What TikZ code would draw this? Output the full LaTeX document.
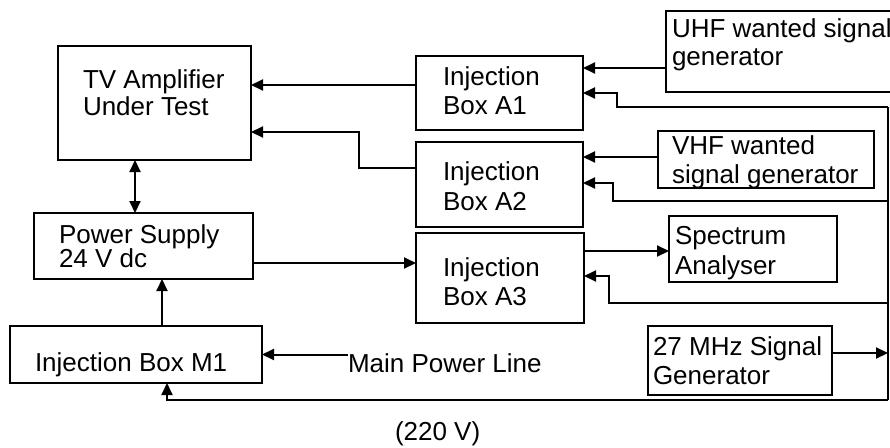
\documentclass[tikz,border=0pt]{standalone}
\usepackage{fontspec}
\setmainfont{Liberation Sans}
\usetikzlibrary{arrows.meta}
\tikzset{
  box/.style={draw, line width=2pt, rectangle, inner sep=0pt, outer sep=0pt},
  txt/.style={inner sep=0pt, outer sep=0pt, anchor=base west, font=\fontsize{26}{29}\selectfont},
  wire/.style={line width=2pt},
  arr/.style={wire, -{Triangle[length=12pt,width=11pt]}},
  dblarr/.style={wire, {Triangle[length=12pt,width=11pt]}-{Triangle[length=12pt,width=11pt]}}
}
\begin{document}
\begin{tikzpicture}[x=1pt,y=-1pt]
\clip (0,0) rectangle (890,447);
\fill[white] (0,0) rectangle (890,447);
% boxes
\node[box, minimum width=193pt, minimum height=114pt] (tv) at (154.5,103) {};
\node[box, minimum width=219pt, minimum height=66pt] (ps) at (143.5,246) {};
\node[box, minimum width=252pt, minimum height=57pt] (m1) at (136,354.5) {};
\node[box, minimum width=167pt, minimum height=74pt] (a1) at (499.5,93) {};
\node[box, minimum width=167pt, minimum height=85pt] (a2) at (499.5,184.5) {};
\node[box, minimum width=168pt, minimum height=90pt] (a3) at (500,278) {};
\node[box, minimum width=239pt, minimum height=81pt] (uhf) at (785.5,51.5) {};
\node[box, minimum width=216pt, minimum height=57pt] (vhf) at (766,159.5) {};
\node[box, minimum width=168pt, minimum height=66pt] (sa) at (753,249) {};
\node[box, minimum width=184pt, minimum height=69pt] (gen) at (740,360.5) {};
% texts
\node[txt] (tvt1) at (83,88) {TV Amplifier};
\node[txt] (tvt2) at (83,115) {Under Test};
\node[txt] (pst1) at (59,243.5) {Power Supply};
\node[txt] (pst2) at (59,267) {24 V dc};
\node[txt] (m1t) at (35,371.7) {Injection Box M1};
\node[txt] (a1t1) at (443,85) {Injection};
\node[txt] (a1t2) at (443,114) {Box A1};
\node[txt] (a2t1) at (443,180.7) {Injection};
\node[txt] (a2t2) at (443,210) {Box A2};
\node[txt] (a3t1) at (443,276.7) {Injection};
\node[txt] (a3t2) at (443,305) {Box A3};
\node[txt] (uhft1) at (672,37) {UHF wanted signal};
\node[txt] (uhft2) at (672,65.7) {generator};
\node[txt] (vhft1) at (672,154.6) {VHF wanted};
\node[txt] (vhft2) at (672,183.3) {signal generator};
\node[txt] (sat1) at (675,244) {Spectrum};
\node[txt] (sat2) at (675,274.3) {Analyser};
\node[txt] (gent1) at (653,355) {27 MHz Signal};
\node[txt] (gent2) at (653,384) {Generator};
\node[txt] (mpl) at (348,372) {Main Power Line};
\node[txt] (volt) at (395,440) {(220 V)};
% bus coordinates
\coordinate (b1) at (888,107);
\coordinate (b2) at (888,201);
\coordinate (b3) at (888,303);
\coordinate (b4) at (888,400);
% connectors
\draw[arr] ([yshift=8pt]a1.west) -- ([yshift=8pt]a1.west -| tv.east);
\draw[arr] ([yshift=16.5pt]a2.west) -- ++(-57,0) |- ([yshift=-29pt]tv.east);
\draw[dblarr] ([xshift=-19.5pt]tv.south) -- ([xshift=-19.5pt]tv.south |- ps.north);
\draw[arr] ([yshift=-17pt]ps.east) -- ([yshift=-17pt]ps.east -| a3.west);
\draw[arr] ([xshift=26pt]m1.north) -- ([xshift=26pt]m1.north |- ps.south);
\draw[arr] ([yshift=-16.5pt]uhf.west) -- ([yshift=-16.5pt]uhf.west -| a1.east);
\draw[arr] ([yshift=2.5pt]vhf.west) -- ([yshift=2.5pt]vhf.west -| a2.east);
\draw[arr] ([yshift=27pt]a3.east) -- ([yshift=27pt]a3.east -| sa.west);
\draw[arr] ([yshift=7.5pt]gen.east) -- ([yshift=7.5pt]gen.east -| b4);
\draw[arr] (mpl.west |- m1.east) -- (m1.east);
\draw[wire] (b1) -- (b4);
\draw[arr] (b1) -- (b1 -| 617,0) |- (a1.east);
\draw[arr] (b2) -- (b2 -| 613,0) |- ([yshift=1.5pt]a2.east);
\draw[arr] (b3) -- (b3 -| 609,0) |- ([yshift=2pt]a3.east);
\draw[arr] (b4) -| ([xshift=31pt]m1.south);
\end{tikzpicture}
\end{document}
